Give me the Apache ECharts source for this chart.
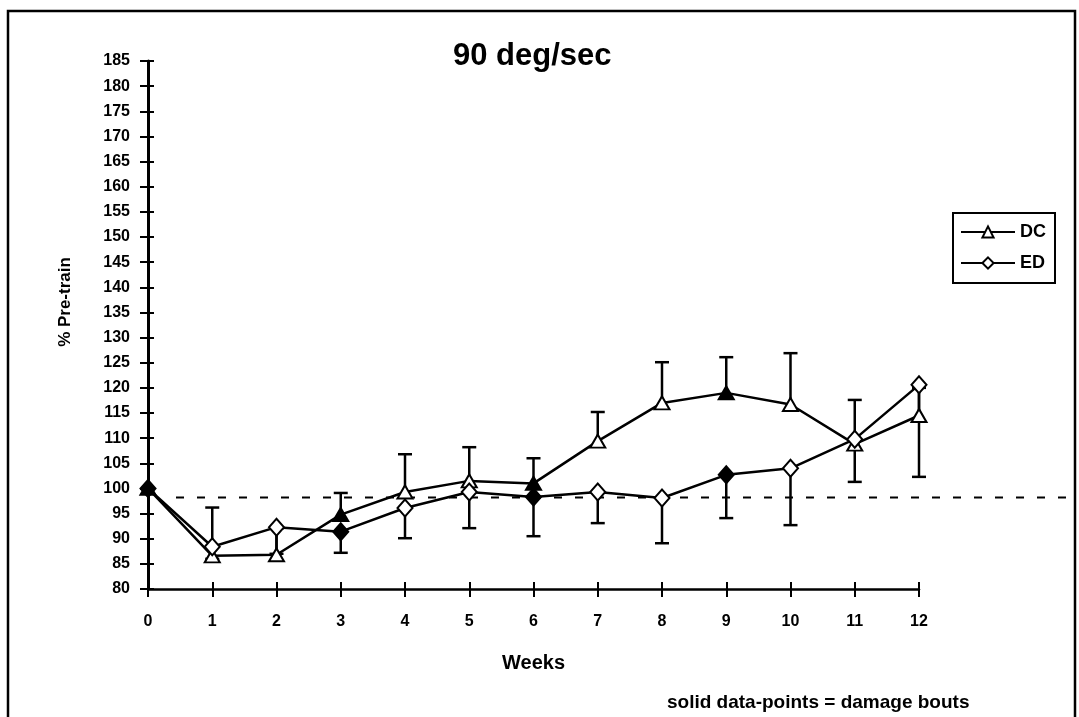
<!DOCTYPE html>
<html>
<head>
<meta charset="utf-8">
<script src="https://cdn.jsdelivr.net/npm/echarts@6/dist/echarts.min.js"></script>
<style>
html,body{margin:0;padding:0;background:#fff;}
#chart{width:1079px;height:717px;}
</style>
</head>
<body>
<div id="chart"></div>
<script>
// ---- data ----
const weeks = [0, 1, 2, 3, 4, 5, 6, 7, 8, 9, 10, 11, 12];
const dcMean  = [100, 86.6, 86.8, 94.8, 99.3, 101.5, 101.0, 109.4, 117.0, 119.0, 116.7, 108.8, 114.5];
const dcUpper = [null, 96.2, 92.0, 99.1, 106.8, 108.2, 106.0, 115.2, 125.1, 126.1, 126.9, 117.6, 120.0];
const edMean  = [100, 88.4, 92.3, 91.4, 96.1, 99.3, 98.3, 99.3, 98.1, 102.7, 104.0, 109.8, 120.6];
const edLower = [null, 86.0, 87.0, 87.2, 90.1, 92.1, 90.5, 93.1, 89.1, 94.1, 92.7, 101.3, 102.3];
const damageWeeks = [0, 3, 6, 9];
const referenceLevel = 98.2;
const seriesNames = ['DC', 'ED'];
const titleText = '90 deg/sec';
const yName = '% Pre-train';
const xName = 'Weeks';
const footnote = 'solid data-points = damage bouts';

const F = '"Liberation Sans", Arial, sans-serif';

function points(means, shape) {
  return weeks.map((w, i) => {
    const solid = damageWeeks.includes(w);
    return {
      value: [w, means[i]],
      symbol: shape,
      itemStyle: solid ? { color: '#000', borderColor: '#000' } : undefined
    };
  });
}
function bars(means, ends) {
  const out = [];
  weeks.forEach((w, i) => { if (ends[i] != null) out.push([w, means[i], ends[i]]); });
  return out;
}
function renderBar(params, api) {
  const x = api.value(0), a = api.value(1), b = api.value(2);
  const p1 = api.coord([x, a]), p2 = api.coord([x, b]);
  const w = 7;
  return {
    type: 'group',
    children: [
      { type: 'line', shape: { x1: p1[0], y1: p1[1], x2: p2[0], y2: p2[1] }, style: { stroke: '#000', lineWidth: 2.5 } },
      { type: 'line', shape: { x1: p2[0] - w, y1: p2[1], x2: p2[0] + w, y2: p2[1] }, style: { stroke: '#000', lineWidth: 2.5 } }
    ]
  };
}

const chart = echarts.init(document.getElementById('chart'), null, { renderer: 'canvas' });
const labelStyle = { color: '#000', fontFamily: F, fontSize: 16, fontWeight: 'bold' };

chart.setOption({
  animation: false,
  backgroundColor: '#fff',
  title: {
    text: titleText, left: 448, top: 36,
    textStyle: { color: '#000', fontFamily: F, fontSize: 31, fontWeight: 'bold' }
  },
  legend: {
    data: seriesNames, orient: 'vertical', left: 953, top: 213,
    padding: [10, 9, 11, 7], itemGap: 13, itemWidth: 54, itemHeight: 14,
    borderColor: '#000', borderWidth: 2,
    textStyle: { color: '#000', fontFamily: F, fontSize: 18, fontWeight: 'bold' }
  },
  grid: [
    { left: 148, right: 160, top: 61, bottom: 128 },
    { left: 176, right: 9, top: 61, bottom: 128 }
  ],
  xAxis: [
    {
      gridIndex: 0, type: 'value', min: 0, max: 12, interval: 1,
      name: xName, nameLocation: 'middle', nameGap: 64,
      nameTextStyle: { color: '#000', fontFamily: F, fontSize: 20, fontWeight: 'bold' },
      axisLine: { show: true, onZero: false, lineStyle: { color: '#000', width: 2.5 } },
      axisTick: { show: true, length: 8, lineStyle: { color: '#000', width: 2 } },
      axisLabel: Object.assign({ margin: 25 }, labelStyle),
      splitLine: { show: false }
    },
    {
      gridIndex: 0, type: 'value', min: 0, max: 12, interval: 1, position: 'bottom',
      axisLine: { show: false }, axisLabel: { show: false }, splitLine: { show: false },
      axisTick: { show: true, inside: true, length: 7, lineStyle: { color: '#000', width: 2 } }
    },
    { gridIndex: 1, type: 'value', min: 0, max: 1, show: false }
  ],
  yAxis: [
    {
      gridIndex: 0, type: 'value', min: 80, max: 185, interval: 5,
      name: yName, nameLocation: 'middle', nameGap: 74, nameRotate: 90,
      nameTextStyle: { color: '#000', fontFamily: F, fontSize: 17, fontWeight: 'bold', padding: [0, 0, 0, 46] },
      axisLine: { show: true, onZero: false, lineStyle: { color: '#000', width: 3 } },
      axisTick: { show: true, length: 8, lineStyle: { color: '#000', width: 2 } },
      axisLabel: Object.assign({ margin: 18 }, labelStyle),
      splitLine: { show: false }
    },
    {
      gridIndex: 0, type: 'value', min: 80, max: 185, interval: 5, position: 'left',
      axisLine: { show: false }, axisLabel: { show: false }, splitLine: { show: false },
      axisTick: { show: true, inside: true, length: 6, lineStyle: { color: '#000', width: 2 } }
    },
    { gridIndex: 1, type: 'value', min: 80, max: 185, show: false }
  ],
  graphic: [
    {
      type: 'rect', shape: { x: 8, y: 11, width: 1067, height: 730 },
      style: { fill: null, stroke: '#000', lineWidth: 2.5 }, silent: true
    },
    {
      type: 'text', left: 667, top: 693,
      style: { text: footnote, fill: '#000', font: 'bold 19px "Liberation Sans", Arial, sans-serif' }
    }
  ],
  series: [
    {
      name: 'ref', type: 'line', xAxisIndex: 2, yAxisIndex: 2,
      data: [[0, referenceLevel], [1, referenceLevel]],
      symbol: 'none', silent: true,
      lineStyle: { color: '#000', width: 2, type: [8, 13] }, z: 1
    },
    {
      name: 'DC err', type: 'custom', xAxisIndex: 0, yAxisIndex: 0,
      data: bars(dcMean, dcUpper), renderItem: renderBar, encode: { x: 0, y: [1, 2] }, z: 2, silent: true
    },
    {
      name: 'ED err', type: 'custom', xAxisIndex: 0, yAxisIndex: 0,
      data: bars(edMean, edLower), renderItem: renderBar, encode: { x: 0, y: [1, 2] }, z: 2, silent: true
    },
    {
      name: 'DC', type: 'line', xAxisIndex: 0, yAxisIndex: 0,
      data: points(dcMean, 'triangle'), symbol: 'triangle', symbolSize: [15, 13],
      lineStyle: { color: '#000', width: 2.5 },
      itemStyle: { color: '#fff', borderColor: '#000', borderWidth: 2 }, z: 3
    },
    {
      name: 'ED', type: 'line', xAxisIndex: 0, yAxisIndex: 0,
      data: points(edMean, 'diamond'), symbol: 'diamond', symbolSize: [15, 17],
      lineStyle: { color: '#000', width: 2.5 },
      itemStyle: { color: '#fff', borderColor: '#000', borderWidth: 2 }, z: 4
    }
  ]
});
</script>
</body>
</html>
